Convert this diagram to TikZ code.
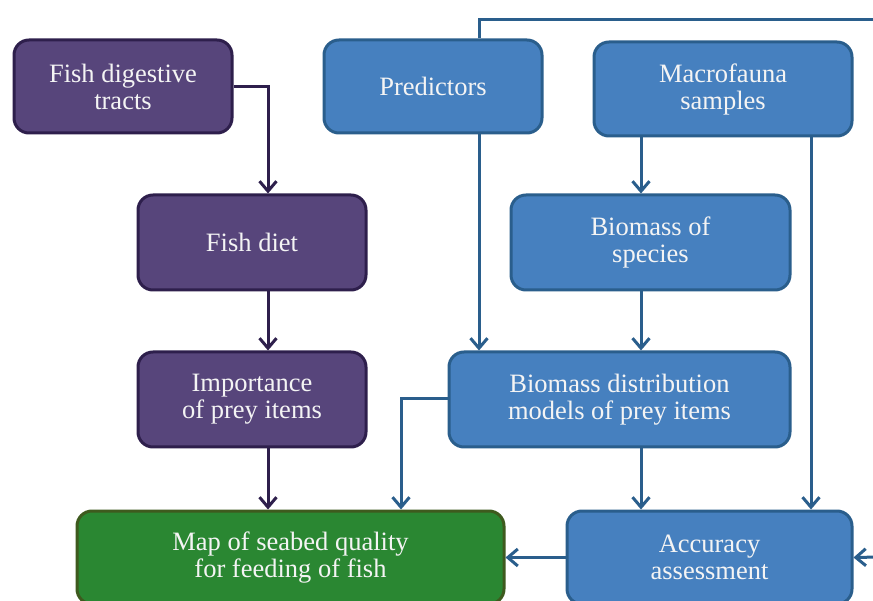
\documentclass[tikz,border=0pt]{standalone}
\usepackage{fontspec}
\setmainfont{Liberation Serif}
\usetikzlibrary{arrows.meta}
\definecolor{bfill}{HTML}{4680BF}
\definecolor{bline}{HTML}{2A5E8C}
\definecolor{pfill}{HTML}{57457B}
\definecolor{pline}{HTML}{2E1F4C}
\definecolor{gfill}{HTML}{2A8732}
\definecolor{gline}{HTML}{3E5A1E}
\definecolor{tcol}{HTML}{F4F4F4}
\tikzset{
  box/.style={rounded corners=15pt, line width=3pt, align=center, text=tcol,
    font=\fontsize{26.5}{27}\selectfont, inner sep=0pt},
  bluebox/.style={box, fill=bfill, draw=bline},
  purpbox/.style={box, fill=pfill, draw=pline},
  greenbox/.style={box, fill=gfill, draw=gline},
  barrow/.style={draw=bline, line width=3pt, -{Straight Barb[length=10pt,width=17pt,line width=3pt]}},
  parrow/.style={draw=pline, line width=3pt, -{Straight Barb[length=10pt,width=17pt,line width=3pt]}},
  bline/.style={draw=bline, line width=3pt},
}
\begin{document}
\begin{tikzpicture}[x=1pt,y=-1pt]
\useasboundingbox (0,0) rectangle (873,601);
\clip (0,0) rectangle (873,601);
\fill[white] (0,0) rectangle (873,601);
% nodes
\node[purpbox, minimum width=218pt, minimum height=93pt] (fdt) at (123,86.5) {Fish digestive\\tracts};
\node[bluebox, minimum width=218pt, minimum height=93pt] (pred) at (433,86.5) {Predictors};
\node[bluebox, minimum width=258pt, minimum height=94pt] (macro) at (723,89) {Macrofauna\\samples};
\node[purpbox, minimum width=228pt, minimum height=95pt] (diet) at (252,242.5) {Fish diet};
\node[bluebox, minimum width=279pt, minimum height=95pt] (bspec) at (650.5,242.5) {Biomass of\\species};
\node[purpbox, minimum width=228pt, minimum height=95pt] (imp) at (252,399.5) {Importance\\of prey items};
\node[bluebox, minimum width=341pt, minimum height=95pt] (bdm) at (619.5,399.5) {Biomass distribution\\models of prey items};
\node[greenbox, minimum width=427pt, minimum height=93pt] (map) at (290.5,557.5) {Map of seabed quality\\for feeding of fish};
\node[bluebox, minimum width=285pt, minimum height=93pt] (acc) at (709.5,557.5) {Accuracy\\assessment};
\coordinate (topright) at (880,20);
\coordinate (rightin) at (880,557);
% purple connectors
\draw[parrow] (fdt.east |- 0,87) -| (diet.north -| 268,0);
\draw[parrow] (diet.south -| 268,0) -- (imp.north -| 268,0);
\draw[parrow] (imp.south -| 268,0) -- (map.north -| 268,0);
% blue connectors
\draw[bline] (pred.north -| 479,0) |- (topright);
\draw[barrow] (pred.south -| 479,0) -- (bdm.north -| 479,0);
\draw[barrow] (macro.south -| 641,0) -- (bspec.north -| 641,0);
\draw[barrow] (macro.south -| 811,0) -- (acc.north -| 811,0);
\draw[barrow] (bspec.south -| 641,0) -- (bdm.north -| 641,0);
\draw[barrow] (bdm.south -| 641,0) -- (acc.north -| 641,0);
\draw[barrow] (bdm.west |- 0,399) -| (map.north -| 401,0);
\draw[barrow] (acc.west) -- (map.east);
\draw[barrow] (rightin) -- (acc.east);
\end{tikzpicture}
\end{document}
